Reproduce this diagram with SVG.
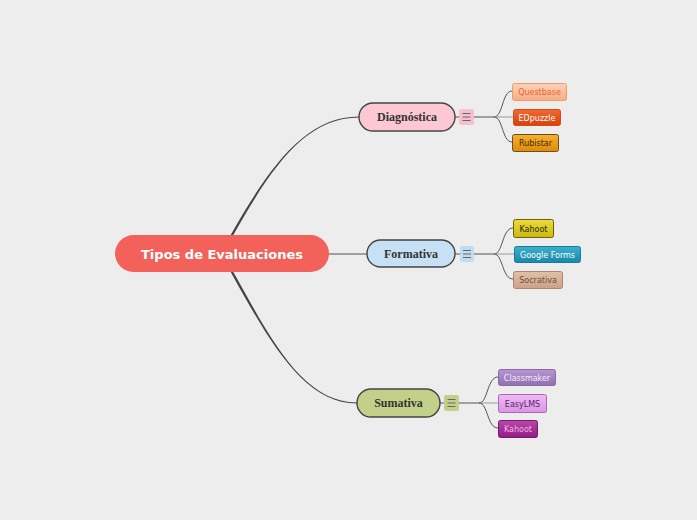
<svg xmlns="http://www.w3.org/2000/svg" width="697" height="520" viewBox="0 0 697 520">
<defs>
<linearGradient id="gQ" x1="0" y1="0" x2="0" y2="1"><stop offset="0" stop-color="#fad2b8"/><stop offset="1" stop-color="#f4ae86"/></linearGradient>
<linearGradient id="gE" x1="0" y1="0" x2="0" y2="1"><stop offset="0" stop-color="#f06a30"/><stop offset="1" stop-color="#d8400e"/></linearGradient>
<linearGradient id="gR" x1="0" y1="0" x2="0" y2="1"><stop offset="0" stop-color="#f6b030"/><stop offset="1" stop-color="#e08a08"/></linearGradient>
<linearGradient id="gK" x1="0" y1="0" x2="0" y2="1"><stop offset="0" stop-color="#ecdc3a"/><stop offset="1" stop-color="#cdb810"/></linearGradient>
<linearGradient id="gG" x1="0" y1="0" x2="0" y2="1"><stop offset="0" stop-color="#3cb0d0"/><stop offset="1" stop-color="#1a88a8"/></linearGradient>
<linearGradient id="gS" x1="0" y1="0" x2="0" y2="1"><stop offset="0" stop-color="#e2c0a8"/><stop offset="1" stop-color="#cca286"/></linearGradient>
<linearGradient id="gC" x1="0" y1="0" x2="0" y2="1"><stop offset="0" stop-color="#b696d2"/><stop offset="1" stop-color="#9070b0"/></linearGradient>
<linearGradient id="gL" x1="0" y1="0" x2="0" y2="1"><stop offset="0" stop-color="#f0baf4"/><stop offset="1" stop-color="#da94e4"/></linearGradient>
<linearGradient id="gH" x1="0" y1="0" x2="0" y2="1"><stop offset="0" stop-color="#b848a8"/><stop offset="1" stop-color="#921c84"/></linearGradient>
</defs>
<style>
.main{font-family:"DejaVu Sans",Verdana,sans-serif;font-weight:bold;font-size:13px;fill:#fff}
.topic{font-family:"Liberation Serif","Times New Roman",serif;font-weight:bold;font-size:12px;fill:#333}
.topicbox{stroke:#444;stroke-width:1.4}
.leaf{font-family:"DejaVu Sans",Verdana,sans-serif;font-size:8px}
.conn{fill:none;stroke:#555;stroke-width:1}
.menu{stroke:#666;stroke-width:1.2}
</style>
<rect width="697" height="520" fill="#ededed"/>
<g id="connectors">
<path d="M230.7 235 C268.7 168 305 116.4 359 116.4 L359 117.6 C305 117.6 271.3 168 233.3 235 Z" fill="#444"/>
<path d="M230.7 272 C268.7 340 303 403.6 357 403.6 L357 402.4 C303 402.4 271.3 340 233.3 272 Z" fill="#444"/>
<path d="M329 254 L367 254" class="conn"/>
<path d="M455 117 L459 117 M455 254 L460 254 M440 403 L444 403" class="conn"/>
<path d="M474 117 L494 117 C503 117 502 91 512 91" class="conn"/>
<path d="M494 117 L513 117" fill="none" stroke="#999" stroke-width="1"/>
<path d="M494 117 C503 117 502 142 512 142" class="conn"/>
<path d="M474 254 L494 254 C503 254 502 228 513 228" class="conn"/>
<path d="M494 254 L514 254" fill="none" stroke="#999" stroke-width="1"/>
<path d="M494 254 C503 254 502 279 513 279" class="conn"/>
<path d="M459 403 L479 403 C488 403 487 377 498 377" class="conn"/>
<path d="M479 403 L498 403" fill="none" stroke="#999" stroke-width="1"/>
<path d="M479 403 C488 403 487 428 498 428" class="conn"/>
</g>
<g id="central">
<rect x="115" y="235" width="214" height="37" rx="18.5" fill="#f2625a"/>
<text x="222" y="258.5" text-anchor="middle" class="main">Tipos de Evaluaciones</text>
</g>
<g id="diagnostica">
<rect x="359" y="103" width="96" height="28" rx="14" fill="#fbc8d4" class="topicbox"/>
<text x="407" y="121" text-anchor="middle" class="topic">Diagnóstica</text>
<rect x="459" y="109" width="15" height="16" rx="2" fill="#f8bfd0"/>
<path d="M462.5 113.5h8M462.5 117h8M462.5 120.5h8" class="menu"/>
</g>
<g id="formativa">
<rect x="367" y="240" width="88" height="27" rx="13.5" fill="#c6e1f5" class="topicbox"/>
<text x="411" y="257.5" text-anchor="middle" class="topic">Formativa</text>
<rect x="460" y="246" width="14" height="16" rx="2" fill="#c0dcf2"/>
<path d="M463 250.5h8M463 254h8M463 257.5h8" class="menu"/>
</g>
<g id="sumativa">
<rect x="357" y="389" width="83" height="28" rx="14" fill="#c3d08a" class="topicbox"/>
<text x="398.5" y="407" text-anchor="middle" class="topic">Sumativa</text>
<rect x="444" y="395" width="15" height="16" rx="2" fill="#c3d08a"/>
<path d="M447.5 399.5h8M447.5 403h8M447.5 406.5h8" class="menu"/>
</g>
<g id="questbase">
<rect x="512.5" y="83.5" width="54" height="17" rx="2" fill="url(#gQ)" stroke="#f29a6e"/>
<text x="539.5" y="95" text-anchor="middle" class="leaf" fill="#f06030">Questbase</text>
</g>
<g id="edpuzzle">
<rect x="513.5" y="109.5" width="47" height="16" rx="2" fill="url(#gE)" stroke="#d84a1a"/>
<text x="537" y="120.5" text-anchor="middle" class="leaf" fill="#fff">EDpuzzle</text>
</g>
<g id="rubistar">
<rect x="512.5" y="134.5" width="46" height="17" rx="2" fill="url(#gR)" stroke="#6a5020"/>
<text x="535.5" y="146" text-anchor="middle" class="leaf" fill="#3a2a00">Rubistar</text>
</g>
<g id="kahoot1">
<rect x="513.5" y="219.5" width="40" height="18" rx="2" fill="url(#gK)" stroke="#6a6010"/>
<text x="533.5" y="231.5" text-anchor="middle" class="leaf" fill="#2a2a00">Kahoot</text>
</g>
<g id="googleforms">
<rect x="514.5" y="246.5" width="66" height="16" rx="2" fill="url(#gG)" stroke="#1a7c9c"/>
<text x="547.5" y="257.5" text-anchor="middle" class="leaf" fill="#fff">Google Forms</text>
</g>
<g id="socrativa">
<rect x="513.5" y="271.5" width="49" height="17" rx="2" fill="url(#gS)" stroke="#a88a74"/>
<text x="538" y="283" text-anchor="middle" class="leaf" fill="#6a5040">Socrativa</text>
</g>
<g id="classmaker">
<rect x="498.5" y="369.5" width="57" height="16" rx="2" fill="url(#gC)" stroke="#8a6aaa"/>
<text x="527" y="380.5" text-anchor="middle" class="leaf" fill="#f4eefa">Classmaker</text>
</g>
<g id="easylms">
<rect x="498.5" y="394.5" width="48" height="18" rx="2" fill="url(#gL)" stroke="#a868b8"/>
<text x="522.5" y="406.5" text-anchor="middle" class="leaf" fill="#602070">EasyLMS</text>
</g>
<g id="kahoot2">
<rect x="498.5" y="420.5" width="39" height="17" rx="2" fill="url(#gH)" stroke="#7a1870"/>
<text x="518" y="432" text-anchor="middle" class="leaf" fill="#f2b4e4">Kahoot</text>
</g>
</svg>
